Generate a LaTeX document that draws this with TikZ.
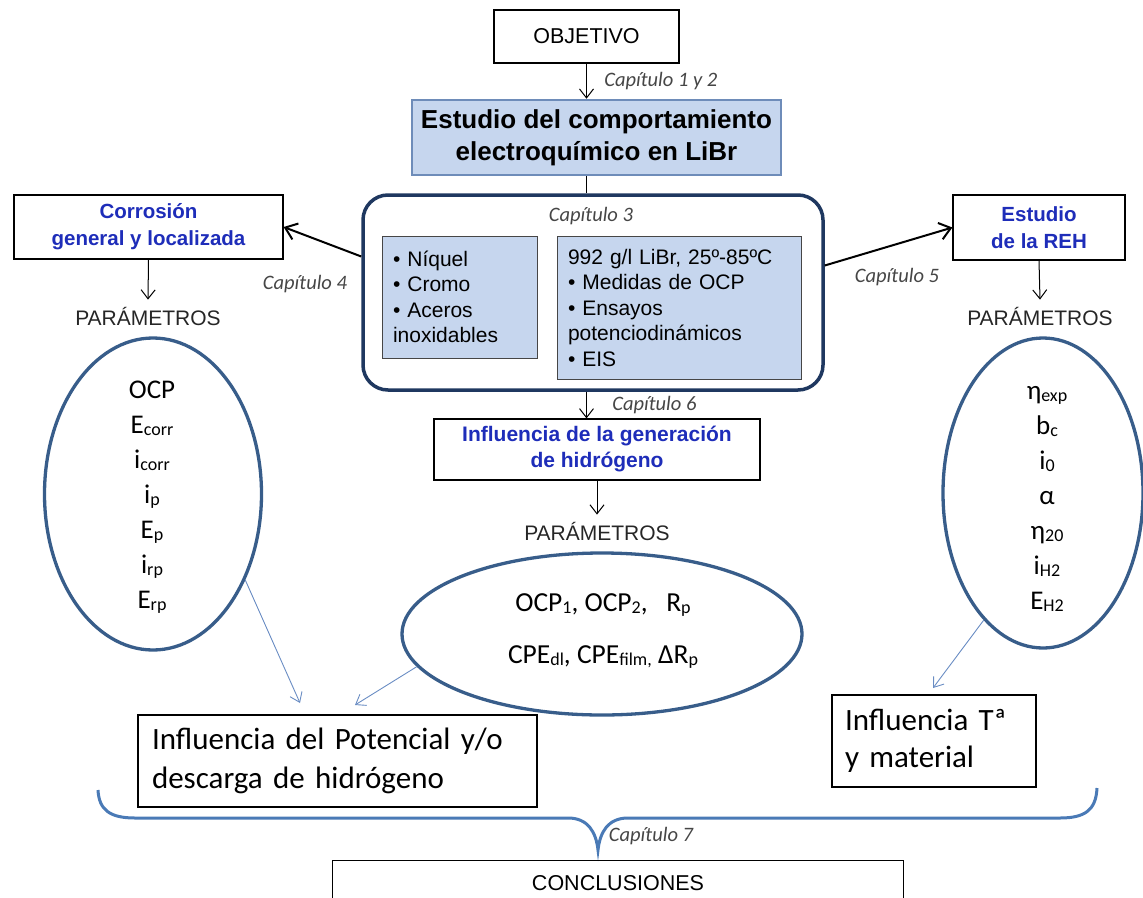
\documentclass[tikz,border=0pt]{standalone}
\usepackage{fontspec}
\setmainfont{Liberation Sans}
\newfontfamily\calib{Carlito}
\usetikzlibrary{arrows.meta,positioning,shapes.geometric,calc}

\definecolor{fondo}{RGB}{198,214,238}
\definecolor{bordeazul}{RGB}{110,140,185}
\definecolor{marino}{RGB}{31,56,96}
\definecolor{elip}{RGB}{56,93,138}
\definecolor{llavecol}{RGB}{74,122,182}
\definecolor{fina}{RGB}{105,140,195}
\definecolor{azultxt}{RGB}{30,45,185}
\definecolor{gristxt}{RGB}{70,70,70}

\newcommand\fs[2]{\fontsize{#1}{#2}\selectfont}
\newcommand\lo[1]{\raisebox{-1.5pt}{\fontsize{18}{18}\selectfont #1}}

\tikzset{
  caja/.style={draw,line width=1.2pt,align=center,inner sep=0pt},
  titulo/.style={caja,text=azultxt,font=\bfseries\fs{20.5}{27}},
  lista/.style={draw=gristxt,line width=1pt,fill=fondo,align=left,inner xsep=11pt,inner ysep=0pt,font=\fs{21}{25.5}},
  param/.style={font=\fs{21}{25},text=black!85,inner sep=7pt},
  capit/.style={font=\calib\itshape\fs{20.5}{24},text=gristxt},
  elipse/.style={ellipse,draw=elip,line width=3.3pt,inner sep=0pt},
  valores/.style={align=center,font=\calib\fs{27}{35}},
  flecha/.style={->,draw=fina,line width=0.9pt,>={Straight Barb[length=9pt,width=13pt]}},
  gruesa/.style={->,line width=2pt,>={Straight Barb[length=11pt,width=17pt]}}
}

\begin{document}
\begin{tikzpicture}[x=1pt,y=-1pt,>={Straight Barb[length=9pt,width=14pt]}]
  \useasboundingbox (0,0) rectangle (1143,897);

  % top of the scheme
  \node[caja,minimum width=185pt,minimum height=53pt,font=\fs{21.5}{26}] (objetivo) at (586.5,36.5) {OBJETIVO};
  \node[caja,fill=fondo,draw=bordeazul,line width=2.5pt,minimum width=369pt,minimum height=75pt,font=\bfseries\fs{26}{32}] (estudio) at (596.5,137.5) {Estudio del comportamiento\\electroqu\'imico en LiBr};
  \draw[->,line width=1pt] (objetivo.south) -- node[capit,right=14pt] (cap12) {Cap\'itulo 1 y 2} (objetivo.south |- estudio.north);

  % chapter 3 block
  \node[draw=marino,line width=3.5pt,rounded corners=25pt,minimum width=460pt,minimum height=195pt,inner sep=0pt] (ensayos) at (593,292.5) {};
  \node[capit] (cap3) at (591,216) {Cap\'itulo 3};
  \node[lista,text width=133pt,minimum height=122pt] (metales) at (459.5,297) {•~N\'iquel\\•~Cromo\\•~Aceros\\inoxidables};
  \node[lista,text width=222pt,minimum height=143pt] (medidas) at (679,307.5) {992 g/l LiBr, 25º-85ºC\\•~Medidas de OCP\\•~Ensayos\\potenciodin\'amicos\\•~EIS};
  \draw[line width=1pt] (objetivo.south |- estudio.south) -- (objetivo.south |- ensayos.north);

  % side branches
  \node[titulo,minimum width=269pt,minimum height=64pt] (corrosion) at (148.5,227) {Corrosi\'on\\general y localizada};
  \node[titulo,minimum width=172pt,minimum height=65pt] (reh) at (1039,227.5) {Estudio\\de la REH};
  \draw[gruesa] ($(ensayos.west)+(0,-36)$) -- (corrosion.east);
  \draw[gruesa] ($(ensayos.east)+(0,-27)$) -- (reh.west);
  \node[capit] (cap4) at (305,284) {Cap\'itulo 4};
  \node[capit] (cap5) at (897,277) {Cap\'itulo 5};

  \node[param] (parL) at (148,316) {PAR\'AMETROS};
  \node[param] (parR) at (1040,316) {PAR\'AMETROS};
  \draw[->,line width=1pt] (corrosion.south) -- (parL.north);
  \draw[->,line width=1pt] (reh.south) -- (parR.north);

  \node[elipse,minimum width=217pt,minimum height=312pt] (elipL) at (153,494) {};
  \node[valores] (valL) at (152,497) {OCP\\E\lo{corr}\\i\lo{corr}\\i\lo{p}\\E\lo{p}\\i\lo{rp}\\E\lo{rp}};
  \node[elipse,minimum width=200pt,minimum height=310pt] (elipR) at (1043,493) {};
  \node[valores] (valR) at (1047,499) {η\lo{exp}\\b\lo{c}\\i\lo{0}\\α\\η\lo{20}\\i\lo{H2}\\E\lo{H2}};

  % chapter 6
  \node[titulo,minimum width=326pt,minimum height=61pt,font=\bfseries\fs{21}{26}] (generacion) at (597,449.5) {Influencia de la generaci\'on\\de hidr\'ogeno};
  \draw[->,line width=1pt] (objetivo.south |- ensayos.south) -- node[capit,right=22pt] (cap6) {Cap\'itulo 6} (objetivo.south |- generacion.north);
  \node[param] (parC) at (597,531) {PAR\'AMETROS};
  \draw[->,line width=1pt] (generacion.south) -- (parC.north);
  \node[elipse,minimum width=400pt,minimum height=162pt] (elipC) at (602,634) {};
  \node[valores,font=\calib\fs{27.5}{52}] (valC) at (603,631) {OCP\lo{1}, OCP\lo{2},\ \ \ R\lo{p}\\CPE\lo{dl}, CPE\lo{film,} ΔR\lo{p}};

  % results
  \node[caja,align=left,text width=371pt,inner xsep=14pt,minimum height=92pt,font=\calib\fs{31}{39}] (potencial) at (337.5,761) {Influencia del Potencial y/o\\descarga de hidr\'ogeno};
  \node[caja,align=left,text width=178pt,inner xsep=13pt,minimum height=92pt,font=\calib\fs{31}{37}] (material) at (934,741) {Influencia Tª\\y material};
  \coordinate (puntaA) at (300,703);
  \coordinate (puntaB) at (355,705);
  \coordinate (puntaC) at (933,688);
  \draw[flecha] (elipL.-43) -- (puntaA);
  \draw[flecha] (elipC.190) -- (puntaB);
  \draw[flecha] (elipR.245) -- (puntaC);

  % brace and conclusions
  \draw[draw=llavecol,line width=3pt] (98,790) .. controls (99,810) and (110,818) .. (135,818) -- (568,818)
    .. controls (588,818) and (596,832) .. (598,850) .. controls (600,832) and (608,818) .. (628,818) -- (1060,818)
    .. controls (1085,818) and (1096,810) .. (1097,788);
  \node[capit] (cap7) at (651,836) {Cap\'itulo 7};
  \node[caja,anchor=north,minimum width=571pt,minimum height=44pt,font=\fs{21.5}{26}] (conclusiones) at (618,860) {CONCLUSIONES};
\end{tikzpicture}
\end{document}
